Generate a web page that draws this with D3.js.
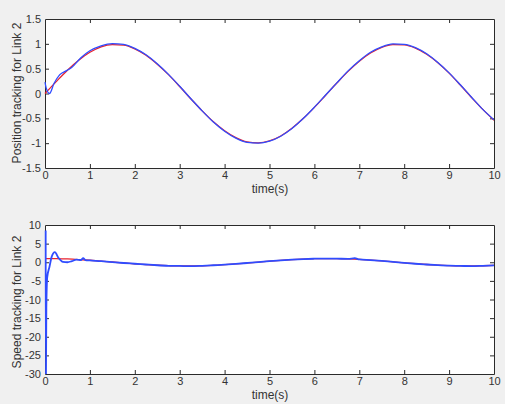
<!DOCTYPE html>
<html><head><meta charset="utf-8">
<script src="https://cdn.jsdelivr.net/npm/d3@7"></script>
<style>body{margin:0;background:#fff}svg{display:block}</style>
</head><body>
<svg id="c" width="508" height="406"></svg>
<script>
// ---- data ----
const xTicks = [0,1,2,3,4,5,6,7,8,9,10];
const posTicks = [-1.5,-1,-0.5,0,0.5,1,1.5];
const spdTicks = [-30,-25,-20,-15,-10,-5,0,5,10];

const refT = [0,0.25,0.5,0.75,1,1.25,1.5,1.75,2,2.25,2.5,2.75,3,3.25,3.5,3.75,4,4.25,4.5,4.75,5,5.25,5.5,5.75,6,6.25,6.5,6.75,7,7.25,7.5,7.75,8,8.25,8.5,8.75,9,9.25,9.5,9.75,10];
const posRef = [0,0.24,0.47,0.67,0.83,0.94,0.985,0.975,0.9,0.77,0.59,0.38,0.14,-0.11,-0.35,-0.57,-0.75,-0.89,-0.975,-0.995,-0.955,-0.855,-0.7,-0.505,-0.28,-0.035,0.21,0.445,0.65,0.815,0.93,0.985,0.98,0.915,0.79,0.62,0.41,0.17,-0.08,-0.32,-0.54];

const posActT = [0,0.03,0.1,0.2,0.33,0.48,0.6,0.8,1,1.25,1.5,1.75,2,2.25,2.5,2.75,3,3.25,3.5,3.75,4,4.25,4.5,4.75,5,5.25,5.5,5.75,6,6.25,6.5,6.75,7,7.25,7.5,7.75,8,8.25,8.5,8.75,9,9.25,9.5,9.75,10];
const posAct = [0.23,0.1,0.0,0.2,0.38,0.46,0.53,0.72,0.86,0.96,1.005,0.99,0.91,0.78,0.6,0.385,0.145,-0.105,-0.35,-0.575,-0.76,-0.9,-0.985,-1.0,-0.96,-0.86,-0.705,-0.505,-0.275,-0.03,0.215,0.455,0.66,0.83,0.94,0.998,0.99,0.925,0.8,0.625,0.415,0.175,-0.075,-0.32,-0.53];

const spdRef = [1,0.97,0.88,0.73,0.54,0.32,0.07,-0.18,-0.42,-0.63,-0.8,-0.92,-0.99,-0.99,-0.94,-0.82,-0.65,-0.45,-0.21,0.04,0.28,0.51,0.71,0.86,0.96,1.0,0.98,0.89,0.75,0.57,0.35,0.1,-0.15,-0.39,-0.6,-0.78,-0.91,-0.99,-1.0,-0.94,-0.84];

const spdActT = [0.015,0.018,0.022,0.03,0.05,0.1,0.15,0.22,0.3,0.4,0.5,0.6,0.7,0.8,0.85,0.9,1,1.25,1.5,1.75,2,2.25,2.5,2.75,3,3.25,3.5,3.75,4,4.25,4.5,4.75,5,5.25,5.5,5.75,6,6.25,6.5,6.75,6.9,7,7.25,7.5,7.75,8,8.25,8.5,8.75,9,9.25,9.5,9.75,10];
const spdAct = [8.5,-30,-30,-12,-4,-1.2,1.5,2.7,1.2,0.1,0.0,0.3,0.7,0.6,1.1,0.6,0.5,0.3,0.05,-0.2,-0.4,-0.6,-0.8,-0.95,-1.0,-1.05,-0.95,-0.8,-0.65,-0.45,-0.2,0.05,0.28,0.5,0.7,0.85,0.95,1.0,0.97,0.9,1.1,0.75,0.57,0.35,0.1,-0.15,-0.4,-0.6,-0.78,-0.92,-0.98,-1.05,-0.95,-0.85];

// ---- drawing ----
const svg = d3.select("#c");
svg.append("rect").attr("x",0).attr("y",0).attr("width",505).attr("height",404).attr("fill","#f0f0f0");

const font = "'Liberation Sans', Arial, Helvetica, sans-serif";
const L = 45, R = 494;
const x = d3.scaleLinear().domain([0,10]).range([L,R]);

function panel(top, bottom, yDomain, yTicks, yLabel, labelCy, series) {
  const y = d3.scaleLinear().domain(yDomain).range([bottom, top]);
  const g = svg.append("g");
  g.append("rect").attr("x",L).attr("y",top).attr("width",R-L).attr("height",bottom-top).attr("fill","#fff");
  const clipId = "clip"+top;
  svg.append("clipPath").attr("id",clipId).append("rect").attr("x",L-1).attr("y",top).attr("width",R-L+1).attr("height",bottom-top);
  const axC = "#2b2b2b";
  const tl = 4;
  const fmt = d=>String(d);
  const bx = g.append("g").attr("transform",`translate(0,${bottom})`).call(d3.axisBottom(x).tickValues(xTicks).tickFormat(fmt).tickSizeInner(-tl).tickSizeOuter(0).tickPadding(3));
  const tx = g.append("g").attr("transform",`translate(0,${top})`).call(d3.axisTop(x).tickValues(xTicks).tickFormat("").tickSizeInner(-tl).tickSizeOuter(0));
  const ly = g.append("g").attr("transform",`translate(${L},0)`).call(d3.axisLeft(y).tickValues(yTicks).tickFormat(fmt).tickSizeInner(-tl).tickSizeOuter(0).tickPadding(4));
  const ry = g.append("g").attr("transform",`translate(${R},0)`).call(d3.axisRight(y).tickValues(yTicks).tickFormat("").tickSizeInner(-tl).tickSizeOuter(0));
  [bx,tx,ly,ry].forEach(a=>{
    a.select(".domain").attr("stroke",axC);
    a.selectAll(".tick line").attr("stroke",axC);
    a.selectAll("text").attr("fill","#333").style("font-family",font).style("font-size","11px");
  });
  [bx,tx].forEach(a=>a.selectAll(".tick").filter(d=>d===0||d===10).select("line").remove());
  [ly,ry].forEach(a=>a.selectAll(".tick").filter(d=>d===yDomain[0]||d===yDomain[1]).select("line").remove());
  const line = d3.line().x(d=>x(d[0])).y(d=>y(d[1])).curve(d3.curveMonotoneX);
  series.forEach(s=>{
    g.append("path").attr("clip-path",`url(#${clipId})`)
      .attr("d", line(s.t.map((t,i)=>[t,s.v[i]])))
      .attr("fill","none").attr("stroke",s.color).attr("stroke-width",s.w).attr("stroke-linejoin","round");
  });
  g.append("text").attr("x",270).attr("y",bottom+25).attr("text-anchor","middle")
    .attr("fill","#333").style("font-family",font).style("font-size","12px").text("time(s)");
  g.append("text").attr("transform",`translate(17,${labelCy}) rotate(-90)`).attr("text-anchor","middle")
    .attr("dominant-baseline","central")
    .attr("fill","#333").style("font-family",font).style("font-size","12px").text(yLabel);
}

panel(19, 168, [-1.5,1.5], posTicks, "Position tracking for Link 2", 93, [
  {t:refT, v:posRef, color:"#e8222e", w:1.3},
  {t:posActT, v:posAct, color:"#2f4cff", w:1.3}
]);
panel(225, 374, [-30,10], spdTicks, "Speed tracking for Link 2", 302, [
  {t:refT, v:spdRef, color:"#e8222e", w:1.3},
  {t:spdActT, v:spdAct, color:"#2f4cff", w:1.8}
]);
</script>
</body></html>
